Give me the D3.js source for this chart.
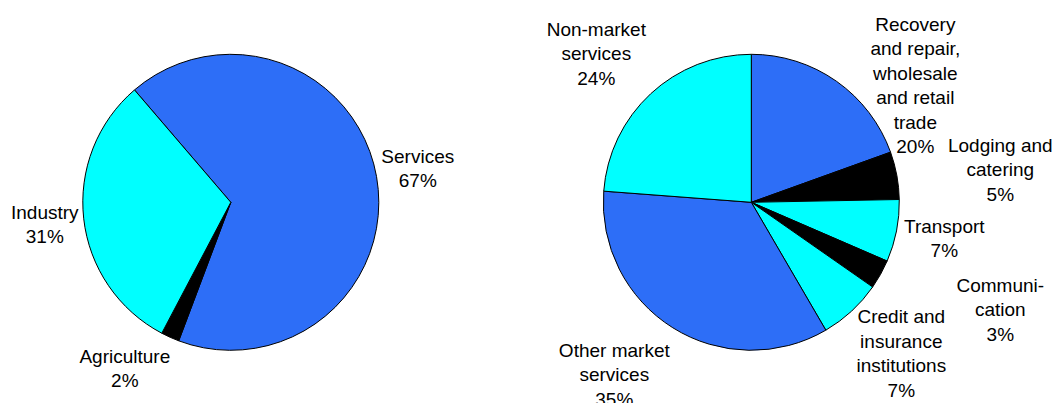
<!DOCTYPE html>
<html>
<head>
<meta charset="utf-8">
<title>Structure of the economy</title>
<script src="https://d3js.org/d3.v7.min.js"></script>
<style>
  body { margin: 0; background: #fff; }
  svg text { font-family: Arial, "Liberation Sans", sans-serif; font-size: 19px; fill: #000; }
  .slice { stroke: #000; stroke-width: 1; }
</style>
</head>
<body>
<svg id="chart" width="1055" height="403"></svg>
<script>
// left pie: sectors of the economy
var sectorNames = ["Services", "Agriculture", "Industry"];
var sectorValues = [67, 2, 31];
var sectorColors = ["#2d6ef7", "#000000", "#00ffff"];
var sectorStart = -40.6; // degrees, where the first slice begins

// right pie: breakdown of services
var serviceNames = ["Recovery\nand repair,\nwholesale\nand retail\ntrade", "Lodging and\ncatering", "Transport",
                    "Communi-\ncation", "Credit and\ninsurance\ninstitutions", "Other market\nservices", "Non-market\nservices"];
var serviceValues = [19.5, 5.2, 6.8, 3.2, 6.9, 34.6, 23.8];
var serviceColors = ["#2d6ef7", "#000000", "#00ffff", "#000000", "#00ffff", "#2d6ef7", "#00ffff"];
var serviceStart = 0;

// where each label block sits, relative to the pie centre
var sectorLabelPos = [[187, -34], [-106, 166], [-186, 22]];
var serviceLabelPos = [[164, -117], [249, -33], [193, 36], [249, 107], [150, 151], [-137, 172], [-155, -149]];

var svg = d3.select("#chart");
var radius = 148;
var lineH = 24.5;

function drawPie(cx, cy, names, values, colors, startDeg, labelPos) {
    var pie = d3.pie().sort(null)
        .startAngle(startDeg * Math.PI / 180)
        .endAngle((startDeg + 360) * Math.PI / 180);
    var arcs = pie(values);
    var arc = d3.arc().innerRadius(0).outerRadius(radius);
    var total = d3.sum(values);

    var g = svg.append("g").attr("transform", "translate(" + cx + "," + cy + ")");
    g.selectAll("path")
        .data(arcs)
        .enter()
        .append("path")
            .attr("class", "slice")
            .attr("d", arc)
            .style("fill", function(d, i) { return colors[i]; });

    g.selectAll("text.lbl")
        .data(arcs)
        .enter()
        .append("text")
            .attr("class", "lbl")
            .attr("text-anchor", "middle")
            .each(function(d, i) {
                var lines = names[i].split("\n");
                lines.push(Math.round(d.value / total * 100) + "%");
                var n = lines.length;
                var t = d3.select(this);
                lines.forEach(function(s, k) {
                    t.append("tspan")
                        .attr("x", labelPos[i][0])
                        .attr("y", labelPos[i][1] + (k - (n - 1) / 2) * lineH + 6.8)
                        .text(s);
                });
            });
}

drawPie(230.8, 202.3, sectorNames, sectorValues, sectorColors, sectorStart, sectorLabelPos);
drawPie(751.3, 202.3, serviceNames, serviceValues, serviceColors, serviceStart, serviceLabelPos);
</script>
</body>
</html>
